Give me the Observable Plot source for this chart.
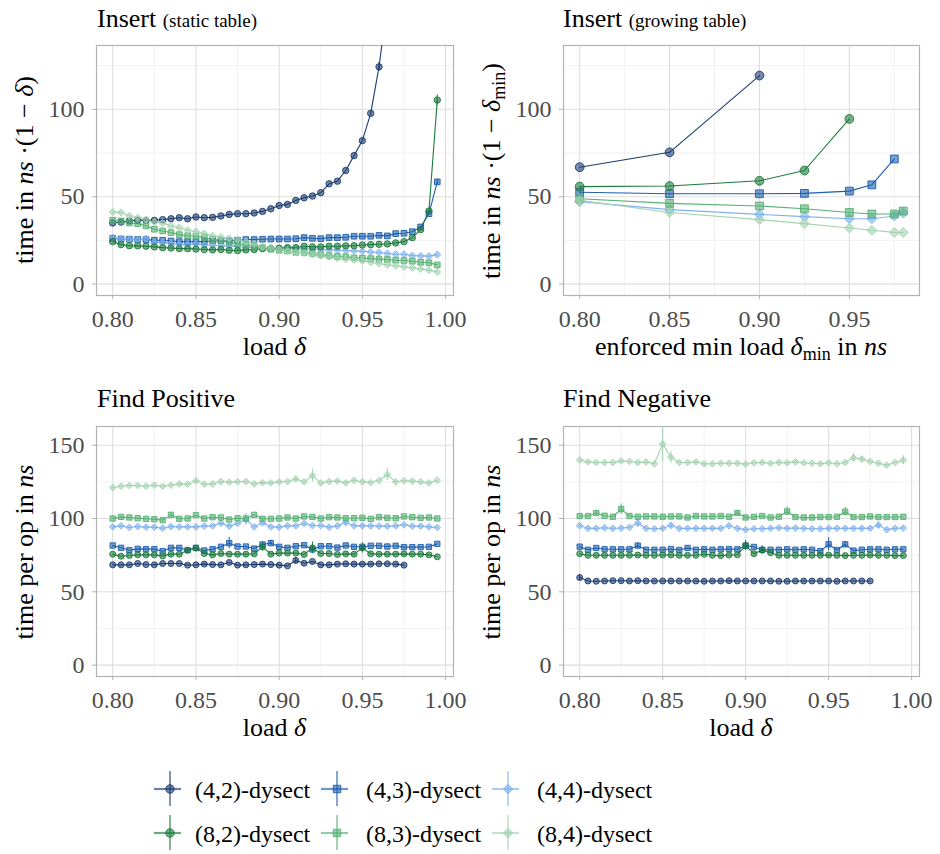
<!DOCTYPE html>
<html>
<head>
<meta charset="utf-8">
<script src="https://cdn.jsdelivr.net/npm/d3@7"></script>
<script src="https://cdn.jsdelivr.net/npm/@observablehq/plot@0.6"></script>
<style>
  html, body { margin: 0; padding: 0; background: #fff; }
  #page { position: relative; width: 940px; height: 854px; font-family: "Liberation Serif", serif; }
  .panel { position: absolute; }
  #overlay { position: absolute; left: 0; top: 0; pointer-events: none; }
  #page svg text { font-family: "Liberation Serif", serif; }
</style>
</head>
<body>
<div id="page">
  <div class="panel" id="p1" style="left:0;top:40px"></div>
  <div class="panel" id="p2" style="left:470px;top:40px"></div>
  <div class="panel" id="p3" style="left:0;top:420px"></div>
  <div class="panel" id="p4" style="left:470px;top:420px"></div>
  <svg id="overlay" width="940" height="854" font-family="Liberation Serif, serif" fill="#000">
    <!-- panel titles -->
    <text x="97" y="27" font-size="26">Insert <tspan font-size="19">(static table)</tspan></text>
    <text x="563" y="27" font-size="26">Insert <tspan font-size="19">(growing table)</tspan></text>
    <text x="97" y="407" font-size="26">Find Positive</text>
    <text x="563" y="407" font-size="26">Find Negative</text>
    <!-- y axis titles -->
    <text transform="translate(33,170) rotate(-90)" text-anchor="middle" font-size="26">time in <tspan font-style="italic">ns</tspan> ·(1 − <tspan font-style="italic">δ</tspan>)</text>
    <text transform="translate(500,171) rotate(-90)" text-anchor="middle" font-size="26">time in <tspan font-style="italic">ns</tspan> ·(1 − <tspan font-style="italic">δ</tspan><tspan font-size="18" dy="5">min</tspan><tspan dy="-5">)</tspan></text>
    <text transform="translate(33,552) rotate(-90)" text-anchor="middle" font-size="26">time per op in <tspan font-style="italic">ns</tspan></text>
    <text transform="translate(500,552) rotate(-90)" text-anchor="middle" font-size="26">time per op in <tspan font-style="italic">ns</tspan></text>
    <!-- x axis titles -->
    <text x="274.5" y="355" text-anchor="middle" font-size="26">load <tspan font-style="italic">δ</tspan></text>
    <text x="741" y="355" text-anchor="middle" font-size="26">enforced min load <tspan font-style="italic">δ</tspan><tspan font-size="18" dy="5">min</tspan><tspan dy="-5"> in </tspan><tspan font-style="italic">ns</tspan></text>
    <text x="274.5" y="736" text-anchor="middle" font-size="26">load <tspan font-style="italic">δ</tspan></text>
    <text x="741" y="736" text-anchor="middle" font-size="26">load <tspan font-style="italic">δ</tspan></text>
    <g id="legend"></g>
  </svg>
</div>
<script>
// ---- series definitions ----
const seriesNames   = ["(4,2)-dysect", "(4,3)-dysect", "(4,4)-dysect", "(8,2)-dysect", "(8,3)-dysect", "(8,4)-dysect"];
const seriesColors  = ["#1b3b6f", "#1d5fae", "#80b1ef", "#1a7a3a", "#55b173", "#a4d3b0"];
const seriesSymbols = ["circle", "square", "diamond2", "circle", "square", "diamond2"];

// load factors measured in the static / find benchmarks
const loads = [0.800, 0.805, 0.810, 0.815, 0.820, 0.825, 0.830, 0.835, 0.840, 0.845,
               0.850, 0.855, 0.860, 0.865, 0.870, 0.875, 0.880, 0.885, 0.890, 0.895,
               0.900, 0.905, 0.910, 0.915, 0.920, 0.925, 0.930, 0.935, 0.940, 0.945,
               0.950, 0.955, 0.960, 0.965, 0.970, 0.975, 0.980, 0.985, 0.990, 0.995];
// enforced minimum loads for the growing table
const minLoads = [0.80, 0.85, 0.90, 0.925, 0.95, 0.9625, 0.975, 0.98];

// ---- Insert (static table): time * (1 - load) ----
const insStatic42 = [35.0,35.5,36.1,36.5,36.5,36.5,36.9,37.4,38.0,37.4, 38.4,38.0,38.2,39.0,39.9,40.3,40.3,40.7,41.6,43.1,
                     45.0,45.6,47.9,49.4,50.4,52.3,57.4,58.9,65.0,73.5, 82.1,97.7,124.3,161.0];
const insStatic43 = [26.2,25.8,25.7,25.5,25.5,25.1,25.1,24.7,24.3,24.3, 24.3,24.3,24.7,24.7,24.7,25.1,25.5,25.5,25.7,25.8,
                     25.8,25.8,26.0,26.6,26.2,26.0,26.6,26.6,26.8,27.4, 27.4,27.4,27.9,27.6,28.9,29.1,30.0,32.7,40.3,58.5];
const insStatic44 = [26.6,25.8,25.5,25.3,26.0,23.8,23.8,23.2,22.8,22.6, 23.0,22.4,22.2,21.9,21.9,21.5,21.1,21.1,20.9,20.7,
                     20.3,20.3,20.1,20.1,20.0,19.8,19.6,19.4,19.2,19.0, 18.8,18.4,18.1,17.5,17.1,17.1,16.3,16.2,16.0,16.9];
const insStatic82 = [24.3,22.6,22.0,21.9,21.7,21.3,20.9,20.7,20.3,20.3, 20.1,19.8,19.6,19.8,19.4,19.2,19.6,19.8,20.3,20.3,
                     20.5,20.9,20.9,21.7,21.3,21.3,21.7,21.7,21.9,22.0, 22.4,22.6,22.8,23.0,23.6,24.3,26.6,31.2,41.8,105.3];
const insStatic83 = [36.5,36.1,35.0,34.6,33.4,31.4,30.4,29.5,28.3,27.7, 27.4,26.6,25.5,25.1,23.9,23.2,22.4,21.7,20.9,20.0,
                     19.4,19.0,18.2,18.1,17.5,16.9,16.3,15.8,15.6,15.0, 14.8,14.6,14.3,14.1,13.7,13.5,13.1,12.5,12.2,11.0];
const insStatic84 = [41.2,41.0,39.1,38.0,36.9,35.5,35.0,33.3,32.3,30.8, 30.0,28.9,27.6,27.0,26.2,25.5,24.3,23.0,21.3,20.5,
                     19.8,19.0,18.2,17.7,16.9,16.3,15.6,14.8,14.4,13.9, 13.3,12.5,11.8,11.0,10.5,9.9,9.3,8.7,8.0,7.0];
const insStaticErr = [["(4,2)-dysect", 0.96, 2.5], ["(8,2)-dysect", 0.995, 3.0], ["(4,3)-dysect", 0.995, 1.5]];

// ---- Insert (growing table): time * (1 - min load) ----
const insGrow42 = [66.9, 75.4, 119.3];
const insGrow43 = [52.6, 51.7, 51.7, 51.9, 53.2, 56.8, 71.6];
const insGrow44 = [47.2, 42.6, 39.9, 38.6, 37.4, 37.4, 39.0, 40.7];
const insGrow82 = [55.8, 56.1, 59.1, 65.0, 94.5];
const insGrow83 = [48.8, 46.2, 44.7, 43.1, 41.0, 40.1, 40.1, 41.8];
const insGrow84 = [47.9, 41.0, 36.9, 34.6, 32.1, 30.8, 29.6, 29.5];

// ---- Find positive: time per op ----
const findPos42 = [68.4,68.4,68.4,69.3,68.6,68.4,69.3,69.3,69.3,68.2, 68.4,68.9,68.6,68.4,70.0,68.2,68.4,68.6,68.9,68.6,
                   68.2,67.7,71.4,69.5,70.7,68.4,68.4,68.9,69.1,68.9, 68.9,68.9,69.1,69.1,68.9,68.2];
const findPos43 = [81.6,80.0,78.4,79.3,79.1,79.1,77.7,80.0,80.0,78.4, 80.0,78.2,79.1,80.7,83.2,80.9,80.9,79.5,82.3,83.2,
                   80.7,80.0,81.1,81.8,78.9,81.1,81.1,80.2,81.6,80.7, 80.7,81.4,81.4,80.9,81.4,80.5,80.5,80.5,80.7,82.7];
const findPos44 = [94.3,95.0,93.9,94.5,94.1,94.1,93.4,94.5,94.3,94.3, 94.3,94.8,95.0,96.8,94.8,96.6,99.3,94.3,97.0,94.3,
                   94.1,95.0,95.0,96.6,95.2,95.2,94.1,95.0,97.3,95.0, 95.0,95.0,94.8,94.8,95.0,95.7,94.8,94.8,94.3,93.9];
const findPos82 = [75.7,74.3,74.8,75.2,75.2,75.2,74.5,75.7,75.7,78.4, 79.8,76.1,75.2,76.1,75.7,75.7,75.7,75.9,80.7,75.7,
                   76.4,76.4,76.4,75.5,80.0,76.1,76.1,75.5,75.9,75.7, 80.0,75.9,75.7,75.7,75.7,75.9,75.7,75.7,75.2,73.9];
const findPos83 = [100.0,101.1,100.7,100.2,99.8,99.5,98.9,102.5,99.8,100.0, 102.3,100.0,100.9,100.7,99.3,100.2,100.0,102.5,99.8,99.8,
                   100.0,100.7,100.0,101.4,101.1,100.0,100.9,100.7,100.2,100.2, 100.5,99.8,100.9,100.5,100.2,101.4,100.9,100.5,100.7,100.0];
const findPos84 = [121.1,122.0,122.5,122.5,122.0,122.7,122.0,122.7,123.6,123.4, 125.7,123.4,123.6,125.2,124.8,125.0,125.2,123.6,124.5,124.3,
                   125.0,125.2,127.0,125.0,129.3,124.3,125.2,125.5,124.3,126.1, 125.0,124.5,125.9,130.0,125.0,125.7,125.5,125.0,124.3,126.1];
const findPosErr = [["(8,4)-dysect", 0.92, 4.5], ["(8,4)-dysect", 0.965, 4.0], ["(8,4)-dysect", 0.91, 1.5],
                    ["(4,4)-dysect", 0.88, 4.0], ["(4,4)-dysect", 0.94, 2.5], ["(4,4)-dysect", 0.865, 1.5],
                    ["(4,3)-dysect", 0.87, 4.0], ["(4,3)-dysect", 0.895, 2.0],
                    ["(8,2)-dysect", 0.89, 3.0], ["(8,2)-dysect", 0.92, 4.0], ["(8,2)-dysect", 0.95, 3.5], ["(8,2)-dysect", 0.845, 1.5],
                    ["(4,2)-dysect", 0.91, 2.0], ["(8,3)-dysect", 0.835, 1.5]];

// ---- Find negative: time per op ----
const findNeg42 = [59.7,57.4,57.2,57.4,57.6,57.6,57.4,57.6,57.4,57.4, 57.4,57.4,57.4,57.4,57.4,57.2,57.4,57.4,57.6,57.4,
                   57.4,57.4,57.4,57.4,57.2,57.2,57.4,57.4,57.4,57.4, 57.4,57.2,57.4,57.4,57.4,57.4];
const findNeg43 = [80.8,78.7,79.9,79.0,79.0,79.0,79.0,81.5,78.7,78.7, 78.7,79.2,78.5,79.9,78.7,79.0,78.7,79.0,79.2,79.0,
                   81.5,80.6,78.7,78.7,78.7,79.0,78.7,79.0,78.7,77.8, 82.4,78.5,82.4,78.1,78.7,79.0,79.0,78.7,79.0,79.0];
const findNeg44 = [95.1,93.3,93.3,93.7,93.3,93.5,93.9,96.9,93.3,93.0, 93.3,95.3,93.3,93.3,93.3,93.3,93.3,93.3,95.1,93.3,
                   92.4,93.0,93.0,93.3,93.7,93.3,93.5,93.3,93.0,93.0, 93.3,93.3,93.3,93.3,93.3,93.3,95.5,92.4,93.3,93.5];
const findNeg82 = [76.0,74.9,74.9,74.9,74.9,74.9,74.9,75.1,74.9,74.9, 75.1,75.1,74.9,74.9,74.9,75.6,74.9,74.7,75.1,75.3,
                   81.5,76.0,78.5,76.7,74.9,74.9,74.9,74.9,74.9,74.9, 75.1,74.9,74.7,74.9,74.9,75.1,74.9,74.9,74.7,74.7];
const findNeg83 = [101.7,101.7,103.7,101.9,101.2,106.4,101.7,101.2,101.4,101.4, 101.2,101.4,101.4,100.7,101.7,101.4,101.4,101.7,101.2,103.7,
                   100.7,101.2,101.7,100.7,101.2,104.8,101.0,100.7,100.7,101.0, 101.0,101.2,104.6,101.0,101.0,101.4,101.0,101.0,101.0,101.2];
const findNeg84 = [140.0,138.6,138.2,138.2,138.2,139.3,138.9,138.2,138.6,137.3, 150.9,141.8,138.2,138.2,138.6,137.3,137.3,137.7,137.7,137.7,
                   137.1,138.0,138.2,137.7,138.2,138.0,138.6,138.0,137.7,137.3, 138.0,137.3,138.2,141.4,140.5,138.9,137.7,136.4,138.2,139.8];
const findNegErr = [["(8,4)-dysect", 0.85, 12.0], ["(8,4)-dysect", 0.855, 4.0], ["(8,4)-dysect", 0.965, 3.0], ["(8,4)-dysect", 0.97, 2.0], ["(8,4)-dysect", 0.995, 3.0],
                    ["(8,3)-dysect", 0.81, 2.0], ["(8,3)-dysect", 0.825, 3.5], ["(8,3)-dysect", 0.895, 2.0], ["(8,3)-dysect", 0.925, 3.0], ["(8,3)-dysect", 0.96, 3.0],
                    ["(4,4)-dysect", 0.835, 3.0], ["(4,4)-dysect", 0.855, 2.0], ["(4,4)-dysect", 0.98, 2.0],
                    ["(4,3)-dysect", 0.835, 2.0], ["(4,3)-dysect", 0.90, 3.0], ["(4,3)-dysect", 0.95, 4.5], ["(4,3)-dysect", 0.96, 2.0],
                    ["(8,2)-dysect", 0.90, 3.5], ["(8,2)-dysect", 0.91, 3.0], ["(4,2)-dysect", 0.80, 2.0]];

// ---- axis ticks ----
const loadTicks = [0.80, 0.85, 0.90, 0.95, 1.00];
const loadMinor = [0.825, 0.875, 0.925, 0.975];
const insertTicks = [0, 50, 100];
const insertMinor = [25, 75, 125];
const findTicks = [0, 50, 100, 150];
const findMinor = [25, 75, 125];

// long-format tables
function table(xs, seriesValues) {
  const rows = [];
  seriesValues.forEach((vals, i) => vals.forEach((v, j) => rows.push({series: seriesNames[i], load: xs[j], value: v})));
  return rows;
}
function errorRows(rows, errs) {
  return errs.map(([series, load, half]) => {
    const r = rows.find(d => d.series === series && Math.abs(d.load - load) < 1e-6);
    return {series, load, lo: r.value - half, hi: r.value + half};
  });
}

const insStaticRows = table(loads, [insStatic42, insStatic43, insStatic44, insStatic82, insStatic83, insStatic84]);
const insGrowRows   = table(minLoads, [insGrow42, insGrow43, insGrow44, insGrow82, insGrow83, insGrow84]);
const findPosRows   = table(loads, [findPos42, findPos43, findPos44, findPos82, findPos83, findPos84]);
const findNegRows   = table(loads, [findNeg42, findNeg43, findNeg44, findNeg82, findNeg83, findNeg84]);

const serif = "'Liberation Serif', serif";

function panel({rows, errs, xDomain, xTicks, yDomain, yTicks, yMinor, r, marginLeft, marginRight, marginTop, marginBottom}) {
  return Plot.plot({
    width: 470,
    height: 320,
    marginLeft, marginRight, marginTop, marginBottom,
    style: {fontFamily: serif, fontSize: "24px", background: "transparent", overflow: "visible"},
    x: {domain: xDomain},
    y: {domain: yDomain},
    color: {domain: seriesNames, range: seriesColors},
    symbol: {domain: seriesNames, range: seriesSymbols},
    marks: [
      Plot.gridX(loadMinor, {stroke: "#ececec", strokeOpacity: 1, strokeWidth: 0.7}),
      Plot.gridY(yMinor, {stroke: "#ececec", strokeOpacity: 1, strokeWidth: 0.7}),
      Plot.gridX(xTicks, {stroke: "#dedede", strokeOpacity: 1, strokeWidth: 1.1}),
      Plot.gridY(yTicks, {stroke: "#dedede", strokeOpacity: 1, strokeWidth: 1.1}),
      Plot.frame({stroke: "#b3b3b3", strokeWidth: 1.2}),
      Plot.axisX(xTicks, {tickFormat: d3.format(".2f"), tickSize: 4, tickPadding: 10, stroke: "#b3b3b3",
                          fill: "#4d4d4d", fontFamily: serif, fontSize: 24, label: null}),
      Plot.axisY(yTicks, {tickSize: 4, tickPadding: 8, stroke: "#b3b3b3", fill: "#4d4d4d",
                          fontFamily: serif, fontSize: 24, label: null}),
      Plot.ruleX(errorRows(rows, errs), {x: "load", y1: "lo", y2: "hi", stroke: "series", strokeWidth: 1, clip: true}),
      Plot.line(rows, {x: "load", y: "value", z: "series", stroke: "series", strokeWidth: 1.1, clip: true}),
      Plot.dot(rows, {x: "load", y: "value", symbol: "series", fill: "series", fillOpacity: 0.6,
                      stroke: "series", strokeWidth: 0.9, r, clip: true})
    ]
  });
}

document.getElementById("p1").append(panel({
  rows: insStaticRows, errs: insStaticErr, xDomain: [0.79025, 1.00475], xTicks: loadTicks,
  yDomain: [-6.5, 136.5], yTicks: insertTicks, yMinor: insertMinor, r: 3.2,
  marginLeft: 96, marginRight: 17, marginTop: 5, marginBottom: 65
}));
document.getElementById("p2").append(panel({
  rows: insGrowRows, errs: [], xDomain: [0.791, 0.989], xTicks: [0.80, 0.85, 0.90, 0.95],
  yDomain: [-6.5, 136.5], yTicks: insertTicks, yMinor: insertMinor, r: 4.4,
  marginLeft: 93, marginRight: 21, marginTop: 5, marginBottom: 65
}));
document.getElementById("p3").append(panel({
  rows: findPosRows, errs: findPosErr, xDomain: [0.79025, 1.00475], xTicks: loadTicks,
  yDomain: [-7.75, 162.75], yTicks: findTicks, yMinor: findMinor, r: 3.0,
  marginLeft: 96, marginRight: 17, marginTop: 6, marginBottom: 64
}));
document.getElementById("p4").append(panel({
  rows: findNegRows, errs: findNegErr, xDomain: [0.79025, 1.00475], xTicks: loadTicks,
  yDomain: [-7.75, 162.75], yTicks: findTicks, yMinor: findMinor, r: 3.0,
  marginLeft: 93, marginRight: 21, marginTop: 6, marginBottom: 64
}));

// ---- legend: error-bar cross + line + symbol, two rows of three ----
const legendCols = [170, 337, 508];
const legendTextX = [195, 366, 537];
const legendRows = [789, 833];
const symbolTypes = {circle: d3.symbolCircle, square: d3.symbolSquare, diamond2: d3.symbolDiamond2};
const lg = d3.select("#legend");
seriesNames.forEach((name, i) => {
  const cx = legendCols[i % 3], cy = legendRows[Math.floor(i / 3)];
  const c = seriesColors[i];
  const g = lg.append("g").attr("transform", `translate(${cx},${cy})`);
  g.append("line").attr("x1", -16).attr("x2", 11).attr("y1", 0).attr("y2", 0)
    .attr("stroke", c).attr("stroke-width", 2.2).attr("stroke-opacity", 0.65);
  g.append("line").attr("x1", 0).attr("x2", 0).attr("y1", -18).attr("y2", 17)
    .attr("stroke", c).attr("stroke-width", 1.1);
  g.append("path").attr("d", d3.symbol(symbolTypes[seriesSymbols[i]], Math.PI * 4.2 * 4.2)())
    .attr("fill", c).attr("fill-opacity", 0.6).attr("stroke", c).attr("stroke-width", 0.9);
  lg.append("text").attr("x", legendTextX[i % 3]).attr("y", cy + 9)
    .attr("font-size", 24).text(name);
});
</script>
</body>
</html>
